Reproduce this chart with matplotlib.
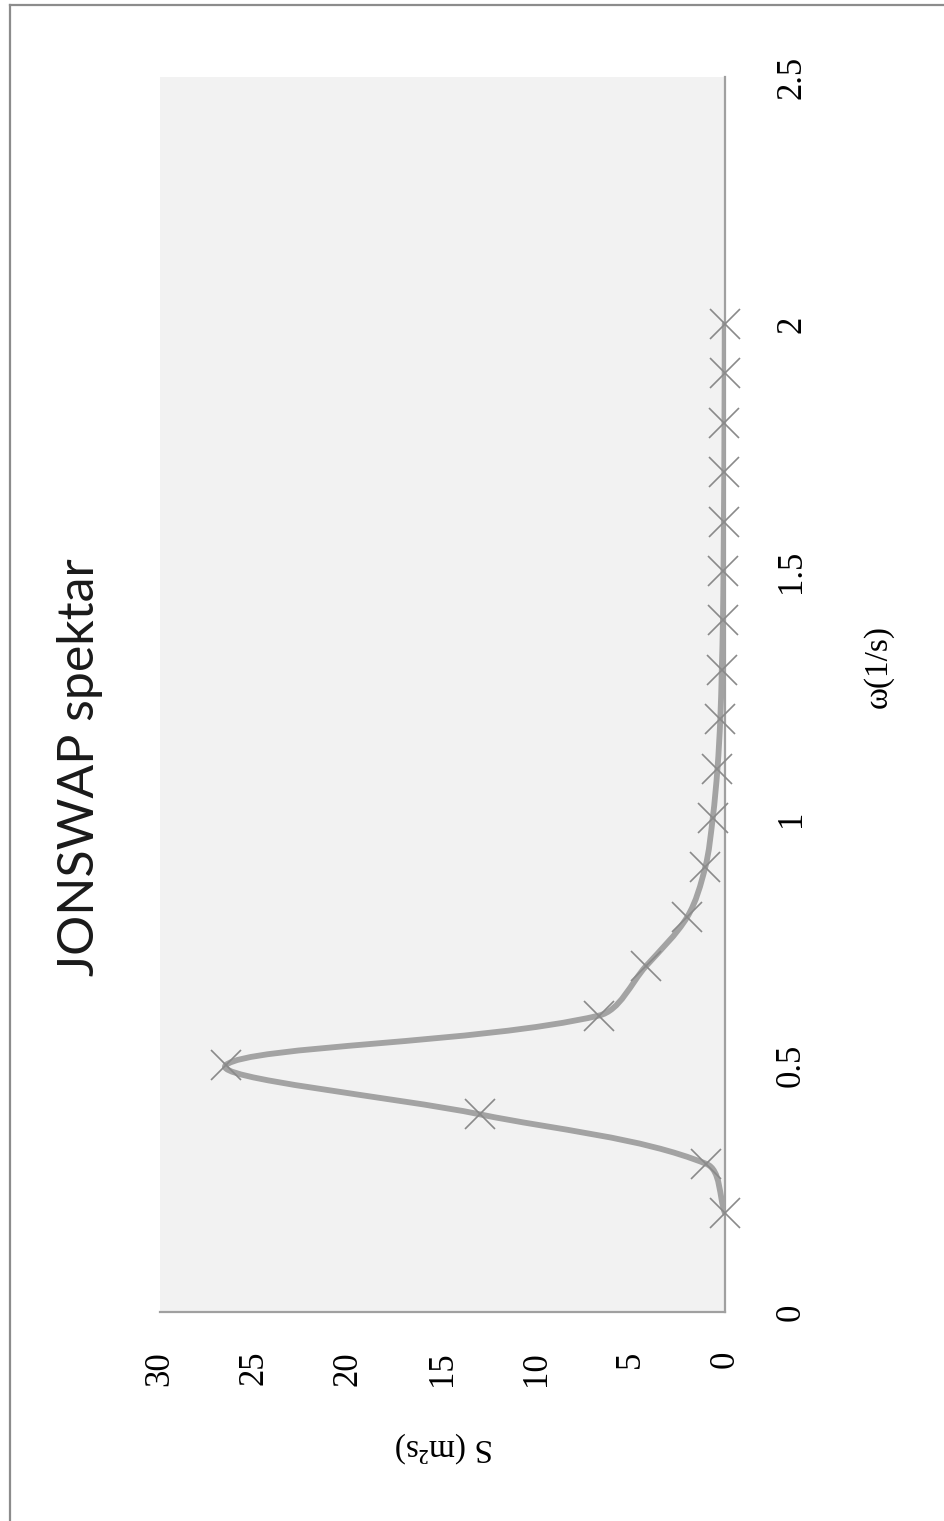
import matplotlib
matplotlib.use("Agg")
import matplotlib.pyplot as plt
from matplotlib.path import Path
from matplotlib.patches import PathPatch
from matplotlib.lines import Line2D
import numpy as np

# ---- data ----
omega = [0.2, 0.3, 0.4, 0.5, 0.6, 0.7, 0.8, 0.9, 1.0, 1.1, 1.2, 1.3, 1.4,
         1.5, 1.6, 1.7, 1.8, 1.9, 2.0]
S_vals = [0.0, 1.0, 13.0, 26.5, 6.7, 4.2, 2.0, 1.05, 0.65, 0.4, 0.25, 0.17,
          0.11, 0.08, 0.06, 0.04, 0.03, 0.02, 0.015]
S_ticks = [0, 5, 10, 15, 20, 25, 30]
omega_ticks = [0, 0.5, 1, 1.5, 2, 2.5]
omega_tick_labels = ["0", "0.5", "1", "1.5", "2", "2.5"]
title = "JONSWAP spektar"
x_label = "ω(1/s)"
y_label = "S (m²s)"

W, H, DPI = 944, 1521, 100
fig = plt.figure(figsize=(W / DPI, H / DPI), dpi=DPI)
fig.patch.set_facecolor("white")

def fx(px):
    return px / W

def fy(py):
    return 1 - py / H

left, right, top, bottom = 160, 725, 77, 1312
ax = fig.add_axes([fx(left), fy(bottom), fx(right) - fx(left), fy(top) - fy(bottom)])
ax.set_facecolor("#f2f2f2")
ax.set_xlim(30, 0)
ax.set_ylim(0, 2.5)

for s in ["left", "top"]:
    ax.spines[s].set_visible(False)
for s in ["right", "bottom"]:
    ax.spines[s].set_color("#a0a0a0")
    ax.spines[s].set_linewidth(1.6)

# smooth line (chord-length scaled Bezier through data points, like Excel smoothing)
pts_d = ax.transData.transform(np.column_stack([S_vals, omega]))
n = len(pts_d)
verts_d = [pts_d[0]]
codes = [Path.MOVETO]
for i in range(n - 1):
    p1 = pts_d[i]
    p2 = pts_d[i + 1]
    d12 = np.linalg.norm(p2 - p1)
    if i > 0:
        p0 = pts_d[i - 1]
        d01 = np.linalg.norm(p1 - p0)
        c1 = p1 + (p2 - p0) * d12 / (d01 + d12) / 3.0
    else:
        c1 = p1 + (p2 - p1) / 3.0
    if i + 2 < n:
        p3 = pts_d[i + 2]
        d23 = np.linalg.norm(p3 - p2)
        c2 = p2 - (p3 - p1) * d12 / (d12 + d23) / 3.0
    else:
        c2 = p2 - (p2 - p1) / 3.0
    verts_d += [c1, c2, p2]
    codes += [Path.CURVE4] * 3
verts = ax.transData.inverted().transform(np.array(verts_d))
patch = PathPatch(Path(verts, codes), fill=False, edgecolor="#a3a3a3",
                  linewidth=4.2, capstyle="round", joinstyle="round", zorder=3)
ax.add_patch(patch)

ax.plot(S_vals, omega, linestyle="none", marker="x", markersize=21,
        markeredgewidth=1.2, color="#8a8a8a", zorder=4, clip_on=False)

serif = ["Liberation Serif", "DejaVu Serif"]

ax.set_xticks(S_ticks)
ax.set_xticklabels([str(v) for v in S_ticks], family=serif, fontsize=25)
ax.tick_params(axis="x", length=0, pad=28, labelrotation=90)

ax.yaxis.tick_right()
ax.set_yticks(omega_ticks)
ax.set_yticklabels(omega_tick_labels, family=serif, fontsize=25)
ax.tick_params(axis="y", length=0, pad=36, labelrotation=90)
for lab in ax.get_yticklabels():
    lab.set_verticalalignment("center")

fig.text(fx(80), fy(767), title, rotation=90, ha="center", va="center",
         family=["Lato", "DejaVu Sans"], fontsize=36, color="#1a1a1a")
fig.text(fx(878), fy(667), x_label, rotation=90, ha="center", va="center",
         family=serif, fontsize=24)
fig.text(fx(444), fy(1447), y_label, rotation=180, ha="center", va="center",
         family=serif, fontsize=24)

# outer chart border (left and top)
fig.add_artist(Line2D([fx(10), fx(10)], [fy(5), 0], transform=fig.transFigure,
                      color="#8c8c8c", linewidth=1.6))
fig.add_artist(Line2D([fx(10), 1], [fy(5), fy(5)], transform=fig.transFigure,
                      color="#8c8c8c", linewidth=1.6))

fig.savefig("out.png", dpi=DPI)
